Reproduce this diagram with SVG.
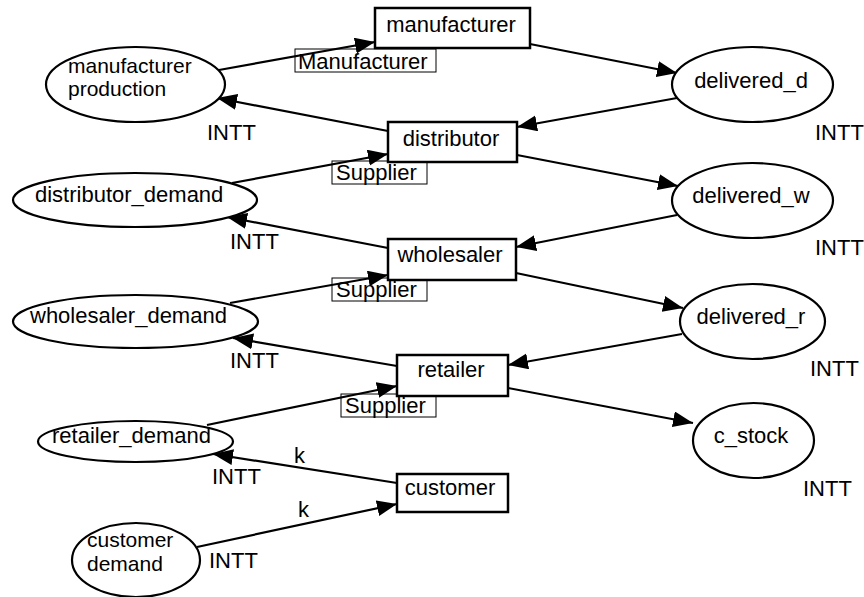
<svg xmlns="http://www.w3.org/2000/svg" width="864" height="597" viewBox="0 0 864 597">
<defs>
<marker id="arr" markerUnits="userSpaceOnUse" markerWidth="22" markerHeight="18" refX="20" refY="8" orient="auto">
<path d="M0,0 L20,8 L0,16 z" fill="#000"/>
</marker>
<style>
text{font-family:"Liberation Sans",Arial,sans-serif;font-size:22px;fill:#000}
.two{font-size:21px}
.place{fill:#fff;stroke:#000;stroke-width:2.2}
.trans{fill:#fff;stroke:#000;stroke-width:2.5}
.lbl{fill:none;stroke:#000;stroke-width:1}
.arc{fill:none;stroke:#000;stroke-width:2.2;marker-end:url(#arr)}
.c{text-anchor:middle}
</style>
</defs>
<rect width="864" height="597" fill="#fff"/>

<g id="connectors">
<line class="arc" x1="219" y1="70" x2="375" y2="42"/>
<line class="arc" x1="530" y1="44" x2="677" y2="73"/>
<line class="arc" x1="677" y1="98" x2="517" y2="127"/>
<line class="arc" x1="388" y1="131" x2="217" y2="98"/>
<line class="arc" x1="232" y1="183" x2="388" y2="154"/>
<line class="arc" x1="517" y1="155" x2="678" y2="186"/>
<line class="arc" x1="677" y1="215" x2="516" y2="247"/>
<line class="arc" x1="388" y1="248" x2="227" y2="217"/>
<line class="arc" x1="230" y1="303" x2="388" y2="275"/>
<line class="arc" x1="516" y1="273" x2="683" y2="308"/>
<line class="arc" x1="682" y1="334" x2="508" y2="365"/>
<line class="arc" x1="397" y1="366" x2="233" y2="338"/>
<line class="arc" x1="207" y1="425" x2="397" y2="386"/>
<line class="arc" x1="508" y1="388" x2="693" y2="423"/>
<line class="arc" x1="397" y1="483" x2="213" y2="454"/>
<line class="arc" x1="197" y1="547" x2="397" y2="504"/>
<rect class="lbl" x="295" y="49" width="141" height="23"/>
<text x="298" y="69">Manufacturer</text>
<rect class="lbl" x="332" y="161" width="95" height="23"/>
<text x="336" y="180">Supplier</text>
<rect class="lbl" x="332" y="278" width="95" height="23"/>
<text x="336" y="297">Supplier</text>
<rect class="lbl" x="341" y="394" width="95" height="23"/>
<text x="345" y="413">Supplier</text>
<text x="294" y="463">k</text>
<text x="298" y="517">k</text>
</g>

<g id="manufacturer_production">
<ellipse class="place" cx="135.5" cy="84.5" rx="89.5" ry="37.5"/>
<text class="two" x="68" y="73">manufacturer</text>
<text class="two" x="68" y="96">production</text>
<text x="207" y="140">INTT</text>
</g>
<g id="manufacturer">
<rect class="trans" x="375" y="8" width="155" height="40"/>
<text class="c" x="451" y="32">manufacturer</text>
</g>
<g id="delivered_d">
<ellipse class="place" cx="752.5" cy="84.5" rx="80.5" ry="37.5"/>
<text class="c" x="751" y="88">delivered_d</text>
<text x="815" y="140">INTT</text>
</g>
<g id="distributor">
<rect class="trans" x="388" y="122" width="129" height="40"/>
<text class="c" x="451" y="146">distributor</text>
</g>
<g id="distributor_demand">
<ellipse class="place" cx="135" cy="200" rx="122" ry="27"/>
<text x="35" y="202">distributor_demand</text>
<text x="230" y="249">INTT</text>
</g>
<g id="delivered_w">
<ellipse class="place" cx="752.5" cy="200.5" rx="80.5" ry="37.5"/>
<text class="c" x="751" y="203">delivered_w</text>
<text x="815" y="255">INTT</text>
</g>
<g id="wholesaler">
<rect class="trans" x="388" y="239" width="128" height="41"/>
<text class="c" x="450" y="262">wholesaler</text>
</g>
<g id="wholesaler_demand">
<ellipse class="place" cx="135.5" cy="321.5" rx="122.5" ry="26.5"/>
<text x="30" y="323">wholesaler_demand</text>
<text x="230" y="368">INTT</text>
</g>
<g id="delivered_r">
<ellipse class="place" cx="752.5" cy="321.5" rx="72.5" ry="37.5"/>
<text class="c" x="751" y="324">delivered_r</text>
<text x="810" y="376">INTT</text>
</g>
<g id="retailer">
<rect class="trans" x="397" y="355" width="111" height="41"/>
<text class="c" x="451" y="377">retailer</text>
</g>
<g id="retailer_demand">
<ellipse class="place" cx="135.5" cy="441.5" rx="97.5" ry="20.5"/>
<text x="52" y="443">retailer_demand</text>
<text x="212" y="484">INTT</text>
</g>
<g id="c_stock">
<ellipse class="place" cx="753.5" cy="440.5" rx="60.5" ry="37.5"/>
<text class="c" x="751" y="443">c_stock</text>
<text x="803" y="496">INTT</text>
</g>
<g id="customer">
<rect class="trans" x="397" y="474" width="111" height="38"/>
<text class="c" x="450" y="495">customer</text>
</g>
<g id="customer_demand">
<ellipse class="place" cx="136" cy="560" rx="64" ry="37"/>
<text class="two" x="87" y="547">customer</text>
<text class="two" x="87" y="571">demand</text>
<text x="209" y="568">INTT</text>
</g>
</svg>
